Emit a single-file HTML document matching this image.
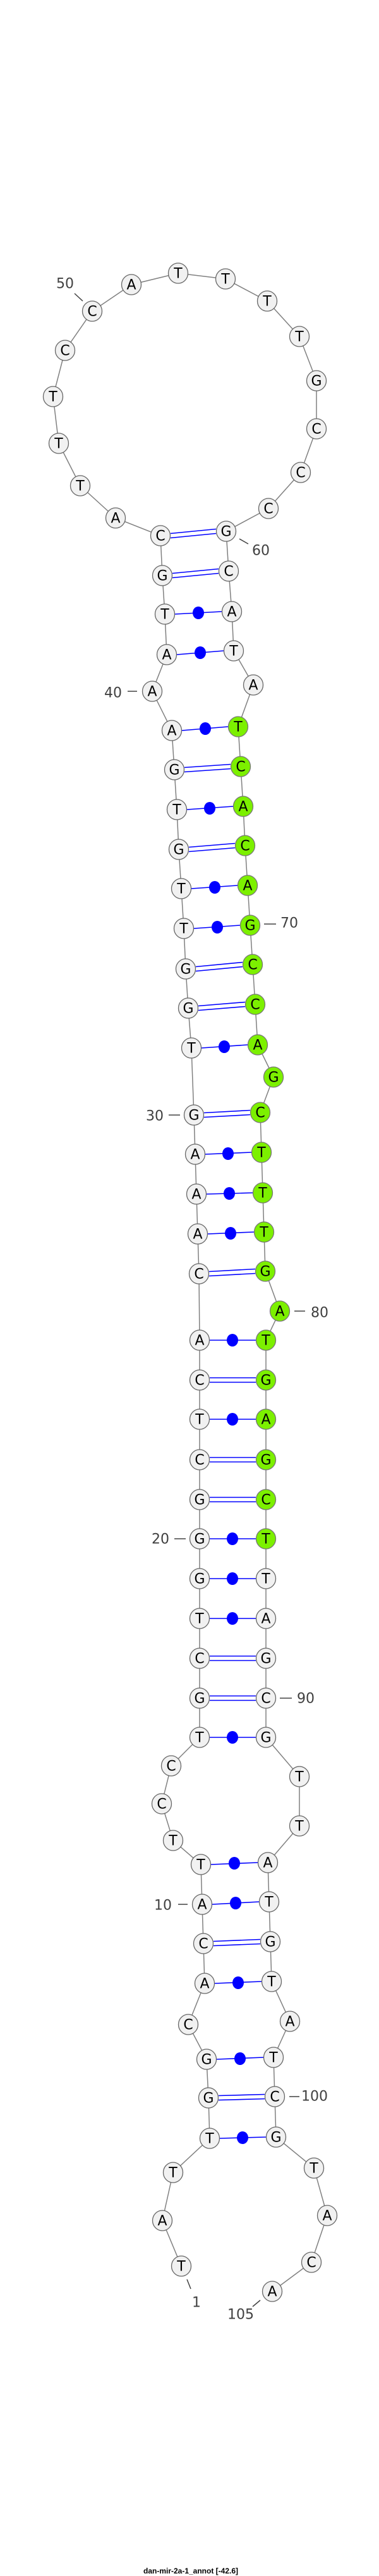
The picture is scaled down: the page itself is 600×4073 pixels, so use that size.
<!DOCTYPE html>
<html><head><meta charset="utf-8"><style>
html,body{margin:0;padding:0;background:#fff;}
svg{display:block;}
.n{fill:#f1f1f1;stroke:#666;stroke-width:1.3;}
.g{fill:#7cf000;stroke:#777;stroke-width:1.3;}
.t{font-family:"DejaVu Sans","Liberation Sans",sans-serif;font-size:22px;fill:#000;text-anchor:middle;dominant-baseline:central;}
.l{font-family:"DejaVu Sans","Liberation Sans",sans-serif;font-size:22px;fill:#404040;text-anchor:middle;dominant-baseline:central;}
.tk{stroke:#404040;stroke-width:1.5;}
.p{stroke:#0000ff;stroke-width:1.6;fill:none;}
.d{fill:#0000ff;}
</style></head><body>
<svg width="600" height="4073" viewBox="0 0 600 4073" xmlns="http://www.w3.org/2000/svg">
<polyline fill="none" stroke="#808080" stroke-width="1.5" points="287,3583 257,3511 274,3435 332,3381 330,3317 327,3256 298,3201 324,3136 322,3073 320,3011 318,2948 274,2910 256,2852 271,2792 316,2747 316,2685 316,2622 316,2559 316,2496 316,2433 316,2371 316,2308 316,2244 316,2182 316,2119 315,2014 313,1951 311,1888 309,1825 307,1763 303,1657 298,1594 294,1532 291,1468 287,1405 283,1343 280,1280 276,1217 272,1155 241,1093 264,1035 261,971 257,910 254,847 183,819 127,768 93,701 84,627 103,554 146,492 208,450 282,432 357,441 423,476 474,532 501,602 501,678 476,747 425,804 358,840 362,903 367,967 370,1029 401,1083 377,1149 381,1212 385,1275 388,1337 392,1400 396,1463 400,1525 404,1588 408,1652 433,1703 412,1759 414,1822 416,1886 418,1948 420,2010 443,2073 421,2119 421,2182 421,2244 421,2308 421,2371 421,2433 421,2496 421,2559 421,2622 421,2685 421,2747 474,2809 474,2887 424,2945 426,3007 428,3070 430,3133 459,3196 433,3253 435,3315 437,3379 497,3428 518,3503 493,3577 431,3623"/>
<!-- pairs: double -->
<g class="p">
<line x1="270" y1="843.5" x2="342" y2="836.5"/><line x1="270" y1="850.5" x2="342" y2="843.5"/>
<line x1="273" y1="906.5" x2="346" y2="899.5"/><line x1="273" y1="913.5" x2="346" y2="906.5"/>
<line x1="292" y1="1213.5" x2="365" y2="1208.5"/><line x1="292" y1="1220.5" x2="365" y2="1215.5"/>
<line x1="299" y1="1339.5" x2="372" y2="1333.5"/><line x1="299" y1="1346.5" x2="372" y2="1340.5"/>
<line x1="310" y1="1528.5" x2="384" y2="1521.5"/><line x1="310" y1="1535.5" x2="384" y2="1528.5"/>
<line x1="314" y1="1590.5" x2="388" y2="1584.5"/><line x1="314" y1="1597.5" x2="388" y2="1591.5"/>
<line x1="323" y1="1759.5" x2="396" y2="1755.5"/><line x1="323" y1="1766.5" x2="396" y2="1762.5"/>
<line x1="331" y1="2010.5" x2="404" y2="2006.5"/><line x1="331" y1="2017.5" x2="404" y2="2013.5"/>
<line x1="332" y1="2178.5" x2="405" y2="2178.5"/><line x1="332" y1="2185.5" x2="405" y2="2185.5"/>
<line x1="332" y1="2304.5" x2="405" y2="2304.5"/><line x1="332" y1="2311.5" x2="405" y2="2311.5"/>
<line x1="332" y1="2367.5" x2="405" y2="2367.5"/><line x1="332" y1="2374.5" x2="405" y2="2374.5"/>
<line x1="332" y1="2618.5" x2="405" y2="2618.5"/><line x1="332" y1="2625.5" x2="405" y2="2625.5"/>
<line x1="332" y1="2681.5" x2="405" y2="2681.5"/><line x1="332" y1="2688.5" x2="405" y2="2688.5"/>
<line x1="338" y1="3069.5" x2="412" y2="3066.5"/><line x1="338" y1="3076.5" x2="412" y2="3073.5"/>
<line x1="346" y1="3313.5" x2="419" y2="3311.5"/><line x1="346" y1="3320.5" x2="419" y2="3318.5"/>
<!-- single -->
<line x1="277" y1="971" x2="351" y2="967"/>
<line x1="280" y1="1035" x2="354" y2="1029"/>
<line x1="288" y1="1155" x2="361" y2="1149"/>
<line x1="296" y1="1280" x2="369" y2="1275"/>
<line x1="303" y1="1405" x2="376" y2="1400"/>
<line x1="307" y1="1468" x2="380" y2="1463"/>
<line x1="319" y1="1657" x2="392" y2="1652"/>
<line x1="325" y1="1825" x2="398" y2="1822"/>
<line x1="327" y1="1888" x2="400" y2="1886"/>
<line x1="329" y1="1951" x2="402" y2="1948"/>
<line x1="332" y1="2119" x2="405" y2="2119"/>
<line x1="332" y1="2244" x2="405" y2="2244"/>
<line x1="332" y1="2433" x2="405" y2="2433"/>
<line x1="332" y1="2496" x2="405" y2="2496"/>
<line x1="332" y1="2559" x2="405" y2="2559"/>
<line x1="332" y1="2747" x2="405" y2="2747"/>
<line x1="334" y1="2948" x2="408" y2="2945"/>
<line x1="336" y1="3011" x2="410" y2="3007"/>
<line x1="340" y1="3136" x2="414" y2="3133"/>
<line x1="343" y1="3256" x2="417" y2="3253"/>
<line x1="348" y1="3381" x2="421" y2="3379"/>
</g>
<g class="d">
<ellipse cx="314" cy="969" rx="9" ry="10"/>
<ellipse cx="317" cy="1032" rx="9" ry="10"/>
<ellipse cx="325" cy="1152" rx="9" ry="10"/>
<ellipse cx="332" cy="1278" rx="9" ry="10"/>
<ellipse cx="340" cy="1403" rx="9" ry="10"/>
<ellipse cx="344" cy="1466" rx="9" ry="10"/>
<ellipse cx="355" cy="1655" rx="9" ry="10"/>
<ellipse cx="361" cy="1824" rx="9" ry="10"/>
<ellipse cx="363" cy="1887" rx="9" ry="10"/>
<ellipse cx="365" cy="1950" rx="9" ry="10"/>
<ellipse cx="368" cy="2119" rx="9" ry="10"/>
<ellipse cx="368" cy="2244" rx="9" ry="10"/>
<ellipse cx="368" cy="2433" rx="9" ry="10"/>
<ellipse cx="368" cy="2496" rx="9" ry="10"/>
<ellipse cx="368" cy="2559" rx="9" ry="10"/>
<ellipse cx="368" cy="2747" rx="9" ry="10"/>
<ellipse cx="371" cy="2946" rx="9" ry="10"/>
<ellipse cx="373" cy="3009" rx="9" ry="10"/>
<ellipse cx="377" cy="3135" rx="9" ry="10"/>
<ellipse cx="380" cy="3255" rx="9" ry="10"/>
<ellipse cx="384" cy="3380" rx="9" ry="10"/>
</g>
<!-- nodes -->
<g class="n">
<ellipse cx="287" cy="3583" rx="15.5" ry="16"/><ellipse cx="257" cy="3511" rx="15.5" ry="16"/><ellipse cx="274" cy="3435" rx="15.5" ry="16"/><ellipse cx="332" cy="3381" rx="15.5" ry="16"/><ellipse cx="330" cy="3317" rx="15.5" ry="16"/><ellipse cx="327" cy="3256" rx="15.5" ry="16"/><ellipse cx="298" cy="3201" rx="15.5" ry="16"/><ellipse cx="324" cy="3136" rx="15.5" ry="16"/><ellipse cx="322" cy="3073" rx="15.5" ry="16"/><ellipse cx="320" cy="3011" rx="15.5" ry="16"/>
<ellipse cx="318" cy="2948" rx="15.5" ry="16"/><ellipse cx="274" cy="2910" rx="15.5" ry="16"/><ellipse cx="256" cy="2852" rx="15.5" ry="16"/><ellipse cx="271" cy="2792" rx="15.5" ry="16"/><ellipse cx="316" cy="2747" rx="15.5" ry="16"/><ellipse cx="316" cy="2685" rx="15.5" ry="16"/><ellipse cx="316" cy="2622" rx="15.5" ry="16"/><ellipse cx="316" cy="2559" rx="15.5" ry="16"/><ellipse cx="316" cy="2496" rx="15.5" ry="16"/><ellipse cx="316" cy="2433" rx="15.5" ry="16"/>
<ellipse cx="316" cy="2371" rx="15.5" ry="16"/><ellipse cx="316" cy="2308" rx="15.5" ry="16"/><ellipse cx="316" cy="2244" rx="15.5" ry="16"/><ellipse cx="316" cy="2182" rx="15.5" ry="16"/><ellipse cx="316" cy="2119" rx="15.5" ry="16"/><ellipse cx="315" cy="2014" rx="15.5" ry="16"/><ellipse cx="313" cy="1951" rx="15.5" ry="16"/><ellipse cx="311" cy="1888" rx="15.5" ry="16"/><ellipse cx="309" cy="1825" rx="15.5" ry="16"/><ellipse cx="307" cy="1763" rx="15.5" ry="16"/>
<ellipse cx="303" cy="1657" rx="15.5" ry="16"/><ellipse cx="298" cy="1594" rx="15.5" ry="16"/><ellipse cx="294" cy="1532" rx="15.5" ry="16"/><ellipse cx="291" cy="1468" rx="15.5" ry="16"/><ellipse cx="287" cy="1405" rx="15.5" ry="16"/><ellipse cx="283" cy="1343" rx="15.5" ry="16"/><ellipse cx="280" cy="1280" rx="15.5" ry="16"/><ellipse cx="276" cy="1217" rx="15.5" ry="16"/><ellipse cx="272" cy="1155" rx="15.5" ry="16"/><ellipse cx="241" cy="1093" rx="15.5" ry="16"/>
<ellipse cx="264" cy="1035" rx="15.5" ry="16"/><ellipse cx="261" cy="971" rx="15.5" ry="16"/><ellipse cx="257" cy="910" rx="15.5" ry="16"/><ellipse cx="254" cy="847" rx="15.5" ry="16"/><ellipse cx="183" cy="819" rx="15.5" ry="16"/><ellipse cx="127" cy="768" rx="15.5" ry="16"/><ellipse cx="93" cy="701" rx="15.5" ry="16"/><ellipse cx="84" cy="627" rx="15.5" ry="16"/><ellipse cx="103" cy="554" rx="15.5" ry="16"/><ellipse cx="146" cy="492" rx="15.5" ry="16"/>
<ellipse cx="208" cy="450" rx="15.5" ry="16"/><ellipse cx="282" cy="432" rx="15.5" ry="16"/><ellipse cx="357" cy="441" rx="15.5" ry="16"/><ellipse cx="423" cy="476" rx="15.5" ry="16"/><ellipse cx="474" cy="532" rx="15.5" ry="16"/><ellipse cx="501" cy="602" rx="15.5" ry="16"/><ellipse cx="501" cy="678" rx="15.5" ry="16"/><ellipse cx="476" cy="747" rx="15.5" ry="16"/><ellipse cx="425" cy="804" rx="15.5" ry="16"/><ellipse cx="358" cy="840" rx="15.5" ry="16"/>
<ellipse cx="362" cy="903" rx="15.5" ry="16"/><ellipse cx="367" cy="967" rx="15.5" ry="16"/><ellipse cx="370" cy="1029" rx="15.5" ry="16"/><ellipse cx="401" cy="1083" rx="15.5" ry="16"/>
<ellipse cx="421" cy="2496" rx="15.5" ry="16"/><ellipse cx="421" cy="2559" rx="15.5" ry="16"/><ellipse cx="421" cy="2622" rx="15.5" ry="16"/><ellipse cx="421" cy="2685" rx="15.5" ry="16"/><ellipse cx="421" cy="2747" rx="15.5" ry="16"/><ellipse cx="474" cy="2809" rx="15.5" ry="16"/><ellipse cx="474" cy="2887" rx="15.5" ry="16"/><ellipse cx="424" cy="2945" rx="15.5" ry="16"/><ellipse cx="426" cy="3007" rx="15.5" ry="16"/><ellipse cx="428" cy="3070" rx="15.5" ry="16"/>
<ellipse cx="430" cy="3133" rx="15.5" ry="16"/><ellipse cx="459" cy="3196" rx="15.5" ry="16"/><ellipse cx="433" cy="3253" rx="15.5" ry="16"/><ellipse cx="435" cy="3315" rx="15.5" ry="16"/><ellipse cx="437" cy="3379" rx="15.5" ry="16"/><ellipse cx="497" cy="3428" rx="15.5" ry="16"/><ellipse cx="518" cy="3503" rx="15.5" ry="16"/><ellipse cx="493" cy="3577" rx="15.5" ry="16"/><ellipse cx="431" cy="3623" rx="15.5" ry="16"/>
</g>
<g class="g">
<ellipse cx="377" cy="1149" rx="15.5" ry="16"/><ellipse cx="381" cy="1212" rx="15.5" ry="16"/><ellipse cx="385" cy="1275" rx="15.5" ry="16"/><ellipse cx="388" cy="1337" rx="15.5" ry="16"/><ellipse cx="392" cy="1400" rx="15.5" ry="16"/><ellipse cx="396" cy="1463" rx="15.5" ry="16"/><ellipse cx="400" cy="1525" rx="15.5" ry="16"/><ellipse cx="404" cy="1588" rx="15.5" ry="16"/><ellipse cx="408" cy="1652" rx="15.5" ry="16"/><ellipse cx="433" cy="1703" rx="15.5" ry="16"/>
<ellipse cx="412" cy="1759" rx="15.5" ry="16"/><ellipse cx="414" cy="1822" rx="15.5" ry="16"/><ellipse cx="416" cy="1886" rx="15.5" ry="16"/><ellipse cx="418" cy="1948" rx="15.5" ry="16"/><ellipse cx="420" cy="2010" rx="15.5" ry="16"/><ellipse cx="443" cy="2073" rx="15.5" ry="16"/><ellipse cx="421" cy="2119" rx="15.5" ry="16"/><ellipse cx="421" cy="2182" rx="15.5" ry="16"/><ellipse cx="421" cy="2244" rx="15.5" ry="16"/><ellipse cx="421" cy="2308" rx="15.5" ry="16"/><ellipse cx="421" cy="2371" rx="15.5" ry="16"/><ellipse cx="421" cy="2433" rx="15.5" ry="16"/>
</g>
<g class="t">
<text x="287" y="3584">T</text><text x="257" y="3512">A</text><text x="274" y="3436">T</text><text x="332" y="3382">T</text><text x="330" y="3318">G</text><text x="327" y="3257">G</text><text x="298" y="3202">C</text><text x="324" y="3137">A</text><text x="322" y="3074">C</text><text x="320" y="3012">A</text>
<text x="318" y="2949">T</text><text x="274" y="2911">T</text><text x="256" y="2853">C</text><text x="271" y="2793">C</text><text x="316" y="2748">T</text><text x="316" y="2686">G</text><text x="316" y="2623">C</text><text x="316" y="2560">T</text><text x="316" y="2497">G</text><text x="316" y="2434">G</text>
<text x="316" y="2372">G</text><text x="316" y="2309">C</text><text x="316" y="2245">T</text><text x="316" y="2183">C</text><text x="316" y="2120">A</text><text x="315" y="2015">C</text><text x="313" y="1952">A</text><text x="311" y="1889">A</text><text x="309" y="1826">A</text><text x="307" y="1764">G</text>
<text x="303" y="1658">T</text><text x="298" y="1595">G</text><text x="294" y="1533">G</text><text x="291" y="1469">T</text><text x="287" y="1406">T</text><text x="283" y="1344">G</text><text x="280" y="1281">T</text><text x="276" y="1218">G</text><text x="272" y="1156">A</text><text x="241" y="1094">A</text>
<text x="264" y="1036">A</text><text x="261" y="972">T</text><text x="257" y="911">G</text><text x="254" y="848">C</text><text x="183" y="820">A</text><text x="127" y="769">T</text><text x="93" y="702">T</text><text x="84" y="628">T</text><text x="103" y="555">C</text><text x="146" y="493">C</text>
<text x="208" y="451">A</text><text x="282" y="433">T</text><text x="357" y="442">T</text><text x="423" y="477">T</text><text x="474" y="533">T</text><text x="501" y="603">G</text><text x="501" y="679">C</text><text x="476" y="748">C</text><text x="425" y="805">C</text><text x="358" y="841">G</text>
<text x="362" y="904">C</text><text x="367" y="968">A</text><text x="370" y="1030">T</text><text x="401" y="1084">A</text><text x="377" y="1150">T</text><text x="381" y="1213">C</text><text x="385" y="1276">A</text><text x="388" y="1338">C</text><text x="392" y="1401">A</text><text x="396" y="1464">G</text>
<text x="400" y="1526">C</text><text x="404" y="1589">C</text><text x="408" y="1653">A</text><text x="433" y="1704">G</text><text x="412" y="1760">C</text><text x="414" y="1823">T</text><text x="416" y="1887">T</text><text x="418" y="1949">T</text><text x="420" y="2011">G</text><text x="443" y="2074">A</text>
<text x="421" y="2120">T</text><text x="421" y="2183">G</text><text x="421" y="2245">A</text><text x="421" y="2309">G</text><text x="421" y="2372">C</text><text x="421" y="2434">T</text><text x="421" y="2497">T</text><text x="421" y="2560">A</text><text x="421" y="2623">G</text><text x="421" y="2686">C</text>
<text x="421" y="2748">G</text><text x="474" y="2810">T</text><text x="474" y="2888">T</text><text x="424" y="2946">A</text><text x="426" y="3008">T</text><text x="428" y="3071">G</text><text x="430" y="3134">T</text><text x="459" y="3197">A</text><text x="433" y="3254">T</text><text x="435" y="3316">C</text>
<text x="437" y="3380">G</text><text x="497" y="3429">T</text><text x="518" y="3504">A</text><text x="493" y="3578">C</text><text x="431" y="3624">A</text>
</g>
<!-- position labels -->
<g class="tk">
<line x1="118" y1="464" x2="131" y2="476"/>
<line x1="379" y1="852" x2="393" y2="860"/>
<line x1="202" y1="1093" x2="217" y2="1093"/>
<line x1="418" y1="1461" x2="437" y2="1461"/>
<line x1="267" y1="1763" x2="285" y2="1763"/>
<line x1="466" y1="2073" x2="483" y2="2073"/>
<line x1="276" y1="2433" x2="294" y2="2433"/>
<line x1="443" y1="2685" x2="462" y2="2685"/>
<line x1="282" y1="3011" x2="297" y2="3011"/>
<line x1="458" y1="3315" x2="474" y2="3315"/>
<line x1="296" y1="3604" x2="302" y2="3619"/>
<line x1="412" y1="3637" x2="400" y2="3647"/>
</g>
<g class="l">
<text x="103" y="449">50</text>
<text x="413" y="871">60</text>
<text x="179" y="1096">40</text>
<text x="458" y="1460">70</text>
<text x="245" y="1765">30</text>
<text x="506" y="2076">80</text>
<text x="254" y="2434">20</text>
<text x="484" y="2686">90</text>
<text x="258" y="3013">10</text>
<text x="498" y="3315">100</text>
<text x="311" y="3641">1</text>
<text x="381" y="3660">105</text>
</g>
<text x="302" y="4065" font-family="'Liberation Sans',sans-serif" font-size="12" font-weight="bold" text-anchor="middle" dominant-baseline="central" fill="#000">dan-mir-2a-1_annot [-42.6]</text>
</svg>
</body></html>
